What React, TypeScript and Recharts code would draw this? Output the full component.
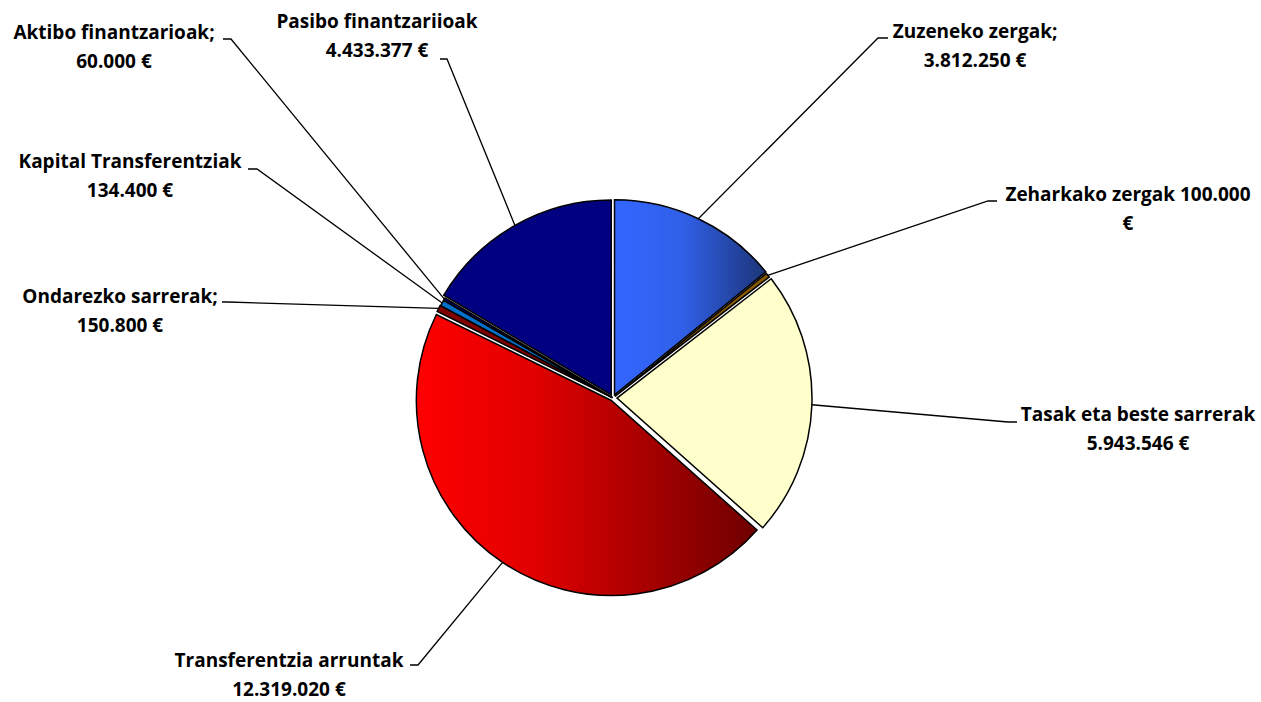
import { PieChart, Pie, Cell } from "recharts";

const names = [
  "Zuzeneko zergak;",
  "Zeharkako zergak 100.000",
  "Tasak eta beste sarrerak",
  "Transferentzia arruntak",
  "Ondarezko sarrerak;",
  "Kapital Transferentziak",
  "Aktibo finantzarioak;",
  "Pasibo finantzariioak",
];
const amounts = [3812250, 100000, 5943546, 12319020, 150800, 134400, 60000, 4433377];
const secondLines = [
  "3.812.250 €",
  "€",
  "5.943.546 €",
  "12.319.020 €",
  "150.800 €",
  "134.400 €",
  "60.000 €",
  "4.433.377 €",
];

const data = names.map((name, i) => ({ name, value: amounts[i] }));

const fills = [
  "url(#gradBlue)",
  "#8a5a00",
  "#ffffcc",
  "url(#gradRed)",
  "#800000",
  "#0070c8",
  "#000060",
  "#000080",
];

// how far each slice is pulled out from the centre
const explode = [3.5, 2.5, 4, 3, 1, 0.5, 0.5, 3.5];

// label text centre and leader line elbow/end
const labelPos = [
  { x: 975, y: 38, ex: 878, ey: 38, hx: 888 },
  { x: 1128, y: 201, ex: 988, ey: 201, hx: 997 },
  { x: 1138, y: 421, ex: 1008, ey: 422, hx: 1017 },
  { x: 289, y: 667, ex: 418, ey: 665, hx: 410 },
  { x: 120, y: 303, ex: 228, ey: 302, hx: 222 },
  { x: 130, y: 168, ex: 257, ey: 169, hx: 248 },
  { x: 114, y: 39, ex: 231, ey: 39, hx: 223 },
  { x: 377, y: 28, ex: 447, ey: 59, hx: 440 },
];

const total = amounts.reduce((a, b) => a + b, 0);
let acc = 0;
const offsets = amounts.map((v, i) => {
  const mid = ((acc + v / 2) / total) * 2 * Math.PI;
  acc += v;
  return { dx: Math.sin(mid) * explode[i], dy: -Math.cos(mid) * explode[i] };
});

const RAD = Math.PI / 180;

const textStyle = {
  fontFamily: "'Open Sans'",
  fontWeight: 700,
  fontSize: 19,
  fill: "#000",
};

const renderLabel = (props: any) => {
  const { cx, cy, midAngle, outerRadius, index } = props;
  const p = labelPos[index];
  const r = outerRadius + explode[index];
  const sx = cx + r * Math.cos(-midAngle * RAD);
  const sy = cy + r * Math.sin(-midAngle * RAD);
  return (
    <g key={`lbl-${index}`}>
      <polyline
        points={`${sx},${sy} ${p.ex},${p.ey} ${p.hx},${p.ey}`}
        fill="none"
        stroke="#000"
        strokeWidth={1.3}
      />
      <text x={p.x} y={p.y} textAnchor="middle" style={textStyle}>
        {names[index]}
      </text>
      <text x={p.x} y={p.y + 29} textAnchor="middle" style={textStyle}>
        {secondLines[index]}
      </text>
    </g>
  );
};

export default function App() {
  return (
    <div style={{ position: "absolute", left: 0, top: 0, background: "#fff" }}>
      <PieChart width={1261} height={702} margin={{ top: 0, right: 0, bottom: 0, left: 0 }}>
        <defs>
          <linearGradient id="gradBlue" x1="0" y1="0" x2="1" y2="0">
            <stop offset="0%" stopColor="#3366ff" />
            <stop offset="45%" stopColor="#3060e8" />
            <stop offset="100%" stopColor="#1c3478" />
          </linearGradient>
          <linearGradient id="gradRed" x1="0" y1="0" x2="1" y2="0">
            <stop offset="0%" stopColor="#ff0000" />
            <stop offset="35%" stopColor="#e00000" />
            <stop offset="100%" stopColor="#6e0000" />
          </linearGradient>
        </defs>
        <Pie
          data={data}
          dataKey="value"
          nameKey="name"
          cx={613}
          cy={398}
          outerRadius={195}
          startAngle={90}
          endAngle={-270}
          stroke="#000"
          strokeWidth={1.5}
          label={renderLabel}
          labelLine={false}
          isAnimationActive={false}
        >
          {data.map((d, i) => (
            <Cell
              key={d.name}
              fill={fills[i]}
              transform={`translate(${offsets[i].dx}, ${offsets[i].dy})`}
            />
          ))}
        </Pie>
      </PieChart>
    </div>
  );
}
